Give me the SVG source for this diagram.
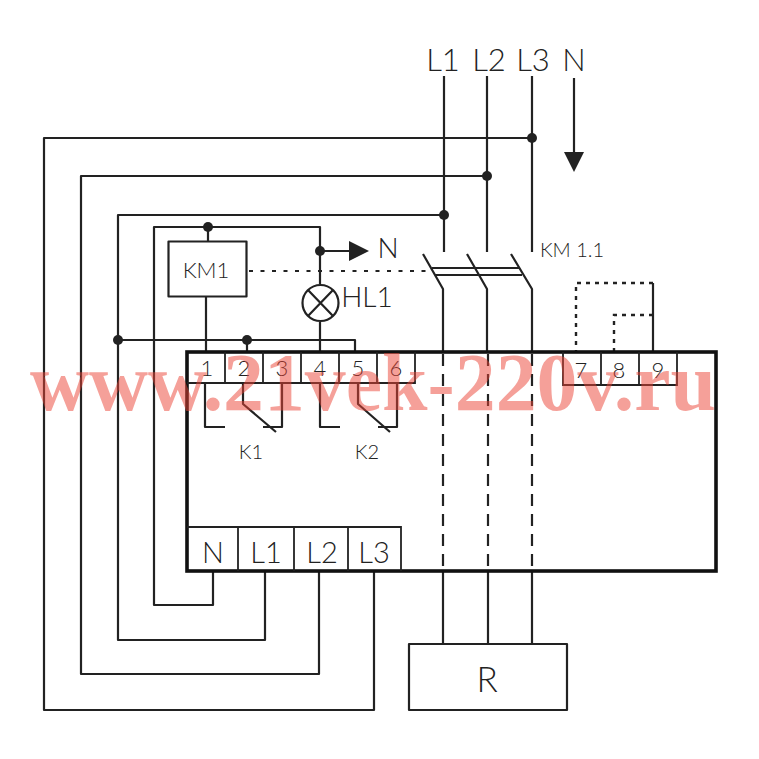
<svg xmlns="http://www.w3.org/2000/svg" width="759" height="759" viewBox="0 0 759 759">
<style>
.w{fill:none;stroke:#222;stroke-width:2.2;stroke-linejoin:round}
.t{fill:none;stroke:#222;stroke-width:1.8}
.f{fill:none;stroke:#111;stroke-width:3.6}
.d{fill:none;stroke:#222;stroke-width:2.4;stroke-dasharray:4 5}
.e{fill:none;stroke:#222;stroke-width:2;stroke-dasharray:4 7.500}
.h{fill:none;stroke:#222;stroke-width:2.2;stroke-dasharray:12 8}
.dot{fill:#222}
text{font-family:"Lato","Liberation Sans",sans-serif;font-weight:300;fill:#222;text-anchor:middle}
.s{font-size:20px}
.m{font-size:22px}
.h1{font-size:28px}
.b{font-size:31px}
.i{font-size:29px}
.r{font-size:35px}
.wm{font-family:"Liberation Serif",serif;font-weight:bold;font-size:82px;fill:#ec4436;opacity:.5}
</style>
<rect width="759" height="759" fill="#fff"/>
<g id="connectors">
<path class="w" d="M532 76V252M532 138H44V710H374V571"/>
<path class="w" d="M487 76V252M487 176H81V674H319V571"/>
<path class="w" d="M444 76V252M444 215H118V640H265V571"/>
<path class="w" d="M213 571V605H154V227H320V284"/>
<path class="w" d="M208 227V241M206 297V352M320 322V352M320 251H350"/>
<path class="w" d="M118 340H355V352M247 340V352"/>
<path class="e" d="M249 271H428"/>
<path class="w" d="M423 254L443 289V352M467 254L487 289V352M511 254L532 289V352"/>
<path class="t" d="M432 268H520M435 275H522"/>
<path class="h" d="M443 354V571M488 354V571M532 354V571"/>
<path class="w" d="M443 571V644M488 571V644M532 571V644"/>
<path class="w" d="M653 352V283"/>
<path class="d" d="M653 283H576V352M653 315H614V352"/>
<path class="w" d="M205 383V427H225M243 383V404L276 432M282 383V427H263"/>
<path class="w" d="M320 383V427H340M358 383V404L390 432M397 383V427H378"/>
<path class="w" d="M574 78V154"/>
<polygon class="dot" points="564,152 584,152 574,172"/>
<polygon class="dot" points="349,241 369,251 349,261"/>
<circle class="dot" cx="532" cy="138" r="5"/>
<circle class="dot" cx="487" cy="176" r="5"/>
<circle class="dot" cx="444" cy="215" r="5"/>
<circle class="dot" cx="208" cy="227" r="5"/>
<circle class="dot" cx="320" cy="251" r="5"/>
<circle class="dot" cx="118" cy="340" r="5"/>
<circle class="dot" cx="247" cy="340" r="5"/>
</g>
<g id="supply-labels">
<text class="b" x="443" y="71">L1</text>
<text class="b" x="489" y="71">L2</text>
<text class="b" x="533" y="71">L3</text>
<text class="b" x="574" y="71">N</text>
</g>
<g id="relay">
<rect class="f" x="187" y="352" width="529" height="219"/>
</g>
<g id="terminals-1-6">
<path class="t" d="M187 383H415V352M225 352V383M263 352V383M301 352V383M339 352V383M377 352V383"/>
<text class="m" x="207" y="376">1</text>
<text class="m" x="244" y="376">2</text>
<text class="m" x="282" y="376">3</text>
<text class="m" x="320" y="376">4</text>
<text class="m" x="358" y="376">5</text>
<text class="m" x="396" y="376">6</text>
</g>
<g id="terminals-7-9">
<path class="t" d="M563 352V385H677V352M601 352V385M639 352V385"/>
<text class="m" x="581" y="378">7</text>
<text class="m" x="619" y="378">8</text>
<text class="m" x="658" y="378">9</text>
</g>
<g id="input-terminals">
<path class="t" d="M187 527H401V571M238 527V571M294 527V571M348 527V571"/>
<text class="i" x="213" y="563">N</text>
<text class="i" x="266" y="563">L1</text>
<text class="i" x="322" y="563">L2</text>
<text class="i" x="374" y="563">L3</text>
</g>
<g id="KM1">
<rect class="w" x="168.500" y="241.500" width="78" height="55"/>
<text class="m" x="206" y="278">KM1</text>
</g>
<g id="HL1">
<circle class="w" cx="320.500" cy="303" r="18"/>
<path class="w" d="M308 290L333 316M333 290L308 316"/>
<text class="h1" x="367" y="307">HL1</text>
</g>
<g id="N-out">
<text class="h1" x="388" y="258">N</text>
</g>
<g id="contact-labels">
<text class="s" x="251" y="459">K1</text>
<text class="s" x="367" y="459">K2</text>
<text class="s" x="572" y="257">KM 1.1</text>
</g>
<g id="R">
<rect class="w" x="409" y="644" width="158" height="66"/>
<text class="r" x="487" y="692">R</text>
</g>
<text class="wm" x="373" y="410" textLength="686" lengthAdjust="spacingAndGlyphs">www.21vek-220v.ru</text>
</svg>
